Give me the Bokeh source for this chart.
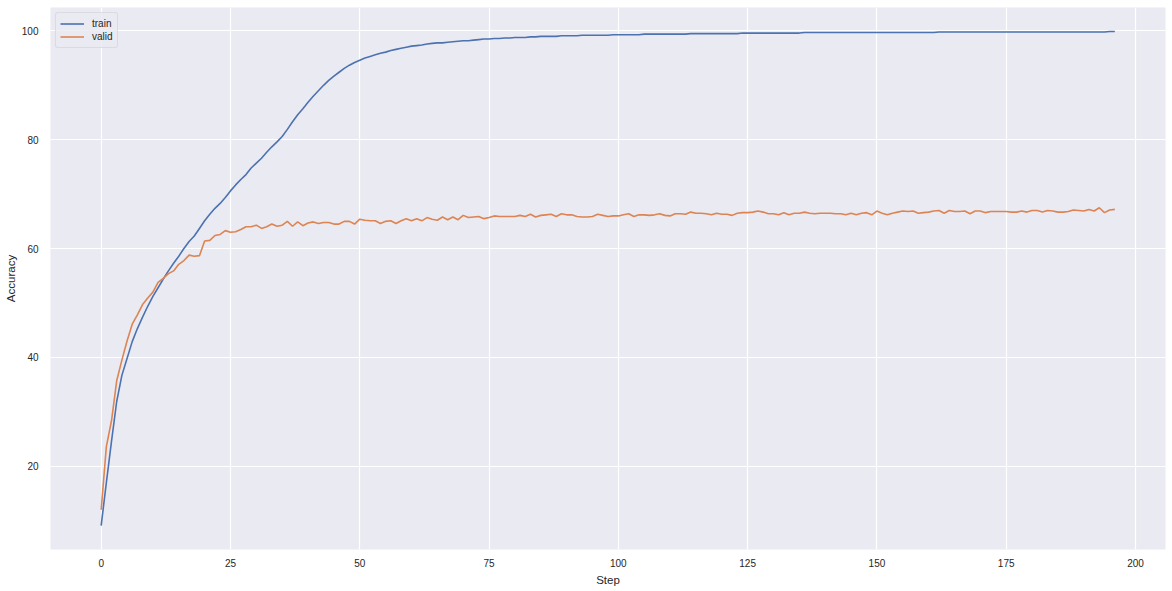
from bokeh.plotting import figure
from bokeh.models import Range1d, FixedTicker
from bokeh.embed import file_html
from bokeh.resources import INLINE

# accuracy per step
train = [9.1, 17.0, 24.6, 31.9, 36.7, 39.8, 42.9, 45.3, 47.4, 49.4,
         51.2, 52.8, 54.4, 55.9, 57.3, 58.6, 60.0, 61.3, 62.3, 63.7,
         65.1, 66.3, 67.4, 68.3, 69.4, 70.6, 71.7, 72.7, 73.6, 74.8,
         75.7, 76.6, 77.7, 78.7, 79.6, 80.6, 81.9, 83.3, 84.6, 85.7,
         86.9, 88.0, 89.0, 90.0, 90.9, 91.7, 92.4, 93.1, 93.7, 94.2,
         94.6, 95.0, 95.3, 95.6, 95.9, 96.1, 96.4, 96.6, 96.8, 97.0,
         97.2, 97.3, 97.4, 97.6, 97.7, 97.8, 97.8, 97.9, 98.0, 98.1,
         98.2, 98.2, 98.3, 98.4, 98.5, 98.5, 98.6, 98.6, 98.7, 98.7,
         98.8, 98.8, 98.8, 98.9, 98.9, 99.0, 99.0, 99.0, 99.0, 99.1,
         99.1, 99.1, 99.1, 99.2, 99.2, 99.2, 99.2, 99.2, 99.2, 99.3,
         99.3, 99.3, 99.3, 99.3, 99.3, 99.4, 99.4, 99.4, 99.4, 99.4,
         99.4, 99.4, 99.4, 99.4, 99.5, 99.5, 99.5, 99.5, 99.5, 99.5,
         99.5, 99.5, 99.5, 99.5, 99.6, 99.6, 99.6, 99.6, 99.6, 99.6,
         99.6, 99.6, 99.6, 99.6, 99.6, 99.6, 99.7, 99.7, 99.7, 99.7,
         99.7, 99.7, 99.7, 99.7, 99.7, 99.7, 99.7, 99.7, 99.7, 99.7,
         99.7, 99.7, 99.7, 99.7, 99.7, 99.7, 99.7, 99.7, 99.7, 99.7,
         99.7, 99.7, 99.8, 99.8, 99.8, 99.8, 99.8, 99.8, 99.8, 99.8,
         99.8, 99.8, 99.8, 99.8, 99.8, 99.8, 99.8, 99.8, 99.8, 99.8,
         99.8, 99.8, 99.8, 99.8, 99.8, 99.8, 99.8, 99.8, 99.8, 99.8,
         99.8, 99.8, 99.8, 99.8, 99.8, 99.9, 99.9]

valid = [12.0, 23.6, 28.4, 35.7, 39.5, 43.0, 46.1, 47.8, 49.7, 50.9,
         52.0, 53.8, 54.5, 55.4, 55.9, 57.1, 57.8, 58.8, 58.6, 58.7,
         61.4, 61.5, 62.4, 62.6, 63.3, 63.0, 63.1, 63.5, 64.0, 64.0,
         64.3, 63.7, 64.0, 64.5, 64.1, 64.3, 65.0, 64.1, 64.9,
         64.2, 64.7, 64.9, 64.6, 64.8, 64.8, 64.5, 64.5, 65.0, 65.0,
         64.5, 65.4, 65.2, 65.1, 65.1, 64.6, 65.0, 65.1, 64.6, 65.1,
         65.5, 65.1, 65.5, 65.1, 65.7, 65.4, 65.2, 65.8, 65.3, 65.8,
         65.3, 66.1, 65.7, 65.8, 65.9, 65.5, 65.7, 66.0, 65.9, 65.9,
         65.9, 65.9, 66.1, 65.9, 66.3, 65.8, 66.1, 66.2, 66.3, 65.9,
         66.4, 66.2, 66.2, 65.9, 65.8, 65.8, 65.9, 66.3, 66.1, 65.9,
         66.0, 66.0, 66.2, 66.4, 65.9, 66.2, 66.2, 66.1, 66.2, 66.4,
         66.1, 66.0, 66.4, 66.4, 66.3, 66.7, 66.5, 66.5, 66.4, 66.2,
         66.5, 66.3, 66.3, 66.1, 66.5, 66.6, 66.6,
         66.7, 66.9, 66.7, 66.4, 66.4, 66.2, 66.6, 66.2, 66.5, 66.5,
         66.7, 66.5, 66.4, 66.5, 66.5, 66.5, 66.4, 66.4, 66.2, 66.5,
         66.2, 66.5, 66.6, 66.2, 66.9, 66.5, 66.2, 66.5, 66.7, 66.9,
         66.8, 66.9, 66.5, 66.6, 66.7, 66.9, 67.0, 66.5, 67.0, 66.8,
         66.8, 66.9, 66.4, 66.9, 66.9, 66.6, 66.8, 66.8, 66.8, 66.8,
         66.7, 66.7, 66.9, 66.7, 67.0, 67.0, 66.7, 67.0, 66.9, 66.7,
         66.7, 66.8, 67.1, 67.0, 66.9, 67.2, 66.9, 67.5, 66.6, 67.1, 67.2]

steps = list(range(len(train)))
x_ticks = [0, 25, 50, 75, 100, 125, 150, 175, 200]
y_ticks = [20, 40, 60, 80, 100]

p = figure(frame_width=1115, frame_height=542, output_backend="svg",
           toolbar_location=None,
           x_range=Range1d(-9.8, 205.8), y_range=Range1d(4.7, 104.3),
           background_fill_color="#eaeaf2", border_fill_color="white",
           min_border_left=50, min_border_right=4, min_border_top=7,
           min_border_bottom=0)
p.outline_line_color = None
p.grid.grid_line_color = "white"
p.grid.grid_line_width = 1.2
p.xaxis.ticker = FixedTicker(ticks=x_ticks)
p.yaxis.ticker = FixedTicker(ticks=y_ticks)

for ax in (p.xaxis, p.yaxis):
    ax.axis_line_color = None
    ax.major_tick_line_color = None
    ax.minor_tick_line_color = None
    ax.major_tick_out = 0
    ax.major_label_text_font = "Liberation Sans"
    ax.major_label_text_font_size = "10px"
    ax.major_label_text_color = "#262626"
    ax.axis_label_text_font = "Liberation Sans"
    ax.axis_label_text_font_size = "11.5px"
    ax.axis_label_text_font_style = "normal"
    ax.axis_label_text_color = "#262626"

p.xaxis.axis_label = "Step"
p.yaxis.axis_label = "Accuracy"
p.xaxis.major_label_standoff = 9
p.xaxis.axis_label_standoff = 4
p.yaxis.major_label_standoff = 12
p.yaxis.axis_label_standoff = 2

p.line(steps, train, line_color="#4c72b0", line_width=1.6, legend_label="train")
p.line(steps, valid, line_color="#dd8452", line_width=1.6, legend_label="valid")

p.legend.location = "top_left"
p.legend.margin = 5
p.legend.padding = 4
p.legend.spacing = 0
p.legend.label_height = 13
p.legend.glyph_height = 13
p.legend.glyph_width = 24
p.legend.label_standoff = 8
p.legend.label_text_font = "Liberation Sans"
p.legend.label_text_font_size = "10px"
p.legend.label_text_color = "#262626"
p.legend.background_fill_color = "#eaeaf2"
p.legend.background_fill_alpha = 0.8
p.legend.border_line_color = "#cccccc"
p.legend.border_radius = 3

open("out.html", "w").write(file_html(p, INLINE))
